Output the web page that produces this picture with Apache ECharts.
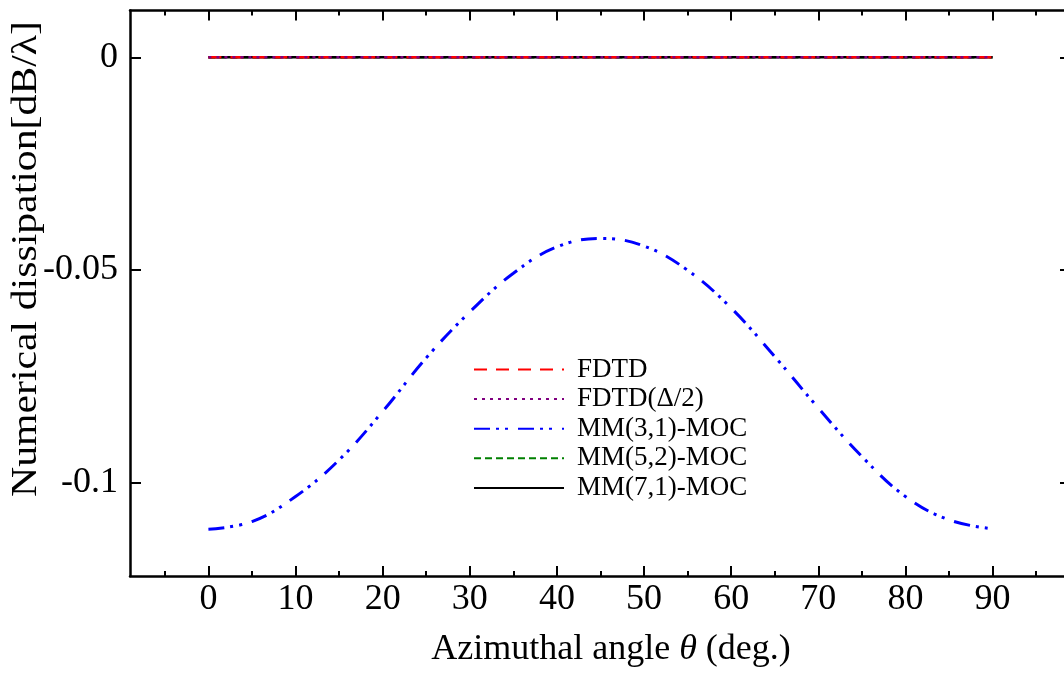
<!DOCTYPE html>
<html>
<head>
<meta charset="utf-8">
<title>Numerical dissipation</title>
<script src="https://cdn.jsdelivr.net/npm/echarts@6/dist/echarts.min.js"></script>
<style>
  html, body { margin: 0; padding: 0; background: #fff; }
  #chart { width: 1064px; height: 675px; }
</style>
</head>
<body>
<div id="chart"></div>
<script>
// angles (deg.)
const angles = [0, 5, 10, 15, 20, 25, 30, 35, 40, 45, 50, 55, 60, 65, 70, 75, 80, 85, 90];
// dissipation [dB/lambda]
const fdtd = [0, 0, 0, 0, 0, 0, 0, 0, 0, 0, 0, 0, 0, 0, 0, 0, 0, 0, 0];
const fdtdHalf = [0, 0, 0, 0, 0, 0, 0, 0, 0, 0, 0, 0, 0, 0, 0, 0, 0, 0, 0];
const mm31 = [-0.1110, -0.1092, -0.1033, -0.0947, -0.0833, -0.0707, -0.0599, -0.0508, -0.0446, -0.0426,
  -0.0444, -0.0501, -0.0590, -0.0704, -0.0825, -0.0939, -0.1033, -0.1088, -0.1109];
const mm52 = [0, 0, 0, 0, 0, 0, 0, 0, 0, 0, 0, 0, 0, 0, 0, 0, 0, 0, 0];
const mm71 = [0, 0, 0, 0, 0, 0, 0, 0, 0, 0, 0, 0, 0, 0, 0, 0, 0, 0, 0];
const seriesNames = ['FDTD', 'FDTD(\u0394/2)', 'MM(3,1)-MOC', 'MM(5,2)-MOC', 'MM(7,1)-MOC'];

// tick labels
const xMajorTicks = [0, 10, 20, 30, 40, 50, 60, 70, 80, 90];
const xMinorTicks = [-5, 5, 15, 25, 35, 45, 55, 65, 75, 85, 95];
const yTicks = [0, -0.05, -0.1];

const serif = 'Liberation Serif';

function pairs(vals) {
  return angles.map(function (a, i) { return [a, vals[i]]; });
}

// x axis: major ticks + labels, minor ticks on a second axis, and the same on top
function xAx(pos, ticks, len, labels) {
  return {
    type: 'value', position: pos, min: -9, max: 99,
    splitLine: { show: false },
    axisLine: { show: ticks === xMajorTicks, onZero: false, lineStyle: { color: '#000', width: 2.5 } },
    axisTick: { show: true, inside: true, length: len, customValues: ticks, lineStyle: { color: '#000', width: 2 } },
    axisLabel: labels ? { customValues: ticks, fontFamily: serif, fontSize: 36, color: '#000', margin: 6 } : { show: false }
  };
}

function yAx(pos, labels) {
  return {
    type: 'value', position: pos, min: -0.122, max: 0.011,
    splitLine: { show: false },
    axisLine: { show: true, onZero: false, lineStyle: { color: '#000', width: 2.5 } },
    axisTick: { show: true, inside: true, length: 11, customValues: yTicks, lineStyle: { color: '#000', width: 2 } },
    axisLabel: labels ? { customValues: yTicks, fontFamily: serif, fontSize: 36, color: '#000', margin: 12 } : { show: false }
  };
}

function line(name, vals, color, dash, width, z) {
  return {
    name: name, type: 'line', data: pairs(vals), xAxisIndex: 0, yAxisIndex: 0,
    symbol: 'none', z: z, color: color,
    lineStyle: { color: color, width: width, type: dash }
  };
}

var chart = echarts.init(document.getElementById('chart'));

chart.setOption({
  animation: false,
  backgroundColor: '#fff',
  // the right frame sits just past the picture's edge
  grid: { left: 130, top: 10.5, right: -7, bottom: 99, containLabel: false, outerBoundsMode: 'none' },
  xAxis: [
    xAx('bottom', xMajorTicks, 10, true),
    xAx('bottom', xMinorTicks, 5, false),
    xAx('top', xMajorTicks, 10, false),
    xAx('top', xMinorTicks, 5, false)
  ],
  yAxis: [yAx('left', true), yAx('right', false)],
  legend: {
    orient: 'vertical', left: 468, top: 351,
    itemWidth: 90, itemHeight: 10, itemGap: 2.6,
    data: seriesNames,
    itemStyle: { opacity: 0 },
    textStyle: { fontFamily: serif, fontSize: 27, color: '#000', lineHeight: 24, padding: [0, 0, 0, 8] }
  },
  series: [
    line(seriesNames[0], fdtd, '#ff0000', [13, 9], 2.5, 4),
    line(seriesNames[1], fdtdHalf, '#800080', [3, 5], 2.5, 5),
    Object.assign(line(seriesNames[2], mm31, '#0000ff', [16, 6, 3, 6, 3, 10], 3, 3), { smooth: 0.4 }),
    line(seriesNames[3], mm52, '#008000', [7, 4], 2.5, 2),
    line(seriesNames[4], mm71, '#000000', 'solid', 2.5, 3)
  ],
  graphic: [
    {
      // y title, stretched a bit along its length like the original
      type: 'text', x: 27, y: 259, rotation: Math.PI / 2, scaleX: 1.16,
      style: {
        text: 'Numerical dissipation[dB/\u03bb]', font: '36px "Liberation Serif"',
        fill: '#000', align: 'center', verticalAlign: 'middle'
      }
    },
    {
      type: 'text', x: 611, y: 650,
      style: {
        text: '{a|Azimuthal angle }{i|\u03b8}{a| (deg.)}',
        align: 'center', verticalAlign: 'middle',
        rich: {
          a: { fontFamily: serif, fontSize: 36, fill: '#000' },
          i: { fontFamily: serif, fontSize: 36, fontStyle: 'italic', fill: '#000' }
        }
      }
    }
  ]
});
</script>
</body>
</html>
